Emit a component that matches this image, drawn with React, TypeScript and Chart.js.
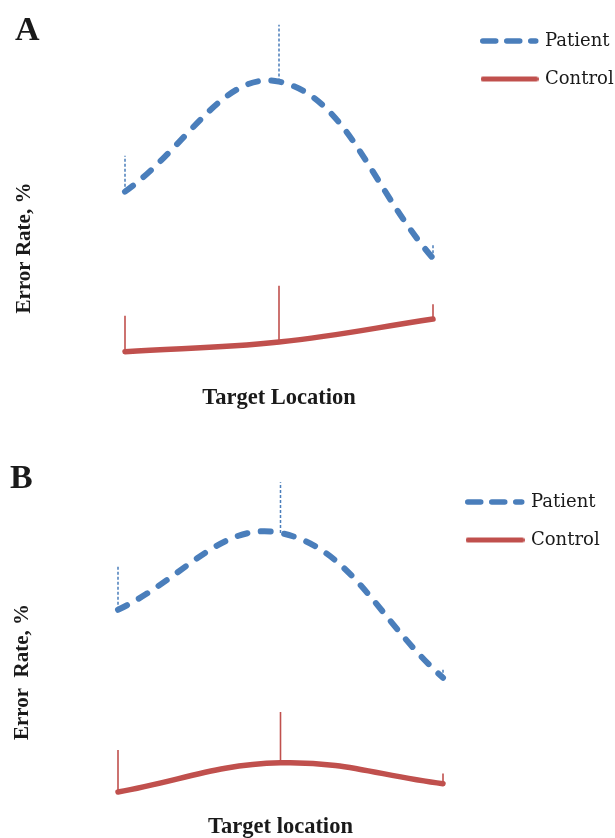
import React, { useEffect, useRef } from 'react';
import { Chart, registerables } from 'chart.js';

Chart.register(...registerables);

// ---- data ----
const categories = ['Left', 'Center', 'Right'];
const seriesNames = ['Patient', 'Control'];

const patientA = [28.8, 46.0, 18.4];
const patientAErr = [5.6, 8.9, 2.2];
const controlA = [3.8, 5.3, 8.9];
const controlAErr = [5.6, 8.8, 2.3];

const patientB = [29.8, 41.9, 19.1];
const patientBErr = [6.8, 8.0, 1.5];
const controlB = [1.1, 5.7, 2.4];
const controlBErr = [6.6, 8.0, 1.6];

const BLUE = '#4A7EBB';
const RED = '#C0504D';
const TEXT = '#1a1a1a';
const LEGEND_FONT = { family: "'DejaVu Serif', serif", size: 18 };
const LEGEND_PAD = 20;

const errorBarPlugin = {
  id: 'errorBars',
  beforeDatasetsDraw(chart: any) {
    const { ctx } = chart;
    const yScale = chart.scales.y;
    chart.data.datasets.forEach((ds: any, i: number) => {
      const errs = ds.errorPlus;
      if (!errs) return;
      const meta = chart.getDatasetMeta(i);
      ctx.save();
      ctx.strokeStyle = ds.borderColor;
      ctx.lineWidth = ds.errorWidth;
      ctx.setLineDash(ds.errorDash || []);
      ctx.lineCap = 'butt';
      meta.data.forEach((pt: any, j: number) => {
        const top = yScale.getPixelForValue(ds.data[j] + errs[j]);
        ctx.beginPath();
        ctx.moveTo(pt.x, pt.y);
        ctx.lineTo(pt.x, top);
        ctx.stroke();
      });
      ctx.restore();
    });
  },
};

function legendSample(len: number, color: string, width: number, dash: number[]): HTMLCanvasElement {
  const cap = width / 2;
  const c = document.createElement('canvas');
  c.width = Math.round(len + 2 * cap);
  c.height = Math.ceil(width + 2);
  const g = c.getContext('2d')!;
  g.strokeStyle = color;
  g.lineWidth = width;
  g.lineCap = 'round';
  g.setLineDash(dash);
  g.beginPath();
  g.moveTo(cap, c.height / 2);
  g.lineTo(cap + len, c.height / 2);
  g.stroke();
  return c;
}

function measure(text: string): number {
  const c = document.createElement('canvas');
  const g = c.getContext('2d')!;
  g.font = `${LEGEND_FONT.size}px ${LEGEND_FONT.family}`;
  return g.measureText(text).width;
}

interface PanelCfg {
  letter: string;
  yTitle: string;
  xTitle: string;
  patient: number[];
  patientErr: number[];
  control: number[];
  controlErr: number[];
  pad: { left: number; top: number };
  titlePad: { top: number; bottom: number };
  yWidth: number;
  yTitlePad: { top: number; bottom: number };
  xHeight: number;
  xTitlePad: { top: number; bottom: number };
  chartRight: number;
  legendLeft: number;
  legendBox: number;
}

function makeConfig(c: PanelCfg, canvasWidth: number): any {
  const avail = canvasWidth - c.legendLeft;
  const maxText = Math.max(...seriesNames.map(measure));
  const computed = LEGEND_PAD + c.legendBox + LEGEND_FONT.size / 2 + maxText + 10;
  const legendWidth = Math.min(avail, computed);
  const padRight = Math.max(0, avail - legendWidth);
  const samples = [
    legendSample(c.legendBox, BLUE, 5.5, [13, 11]),
    legendSample(c.legendBox, RED, 5, []),
  ];
  return {
    type: 'line',
    data: {
      labels: categories,
      datasets: [
        {
          label: seriesNames[0],
          data: c.patient,
          errorPlus: c.patientErr,
          errorWidth: 1.5,
          errorDash: [3, 2],
          borderColor: BLUE,
          backgroundColor: BLUE,
          borderWidth: 6,
          borderDash: [10, 13.5],
          borderCapStyle: 'round',
          borderJoinStyle: 'round',
          tension: 0.4,
          capBezierPoints: false,
          clip: false,
          pointRadius: 0,
          fill: false,
        },
        {
          label: seriesNames[1],
          data: c.control,
          errorPlus: c.controlErr,
          errorWidth: 1.6,
          errorDash: [],
          borderColor: RED,
          backgroundColor: RED,
          borderWidth: 5.5,
          borderCapStyle: 'round',
          borderJoinStyle: 'round',
          tension: 0.4,
          capBezierPoints: false,
          clip: false,
          pointRadius: 0,
          fill: false,
        },
      ],
    },
    options: {
      animation: false,
      responsive: false,
      devicePixelRatio: 1,
      layout: { padding: { left: c.pad.left, top: c.pad.top, right: padRight, bottom: 0 } },
      events: [],
      plugins: {
        tooltip: { enabled: false },
        title: {
          display: true,
          text: c.letter,
          align: 'start',
          color: TEXT,
          font: { family: "'Liberation Serif', serif", weight: 'bold', size: 34, lineHeight: 1 },
          padding: c.titlePad,
        },
        legend: {
          display: true,
          position: 'right',
          align: 'start',
          maxWidth: legendWidth,
          labels: {
            usePointStyle: true,
            pointStyleWidth: c.legendBox,
            padding: LEGEND_PAD,
            color: TEXT,
            font: LEGEND_FONT,
            generateLabels: (chart: any) => {
              const items = Chart.defaults.plugins.legend.labels.generateLabels(chart);
              return items.map((it: any, i: number) => ({ ...it, pointStyle: samples[i], rotation: 0 }));
            },
          },
        },
      },
      scales: {
        x: {
          type: 'category',
          offset: false,
          display: true,
          ticks: { display: false },
          grid: { display: false, drawTicks: false },
          border: { display: false },
          title: {
            display: true,
            text: c.xTitle,
            color: TEXT,
            font: { family: "'Liberation Serif', serif", weight: 'bold', size: 22.5, lineHeight: 1 },
            padding: c.xTitlePad,
          },
          afterFit: (s: any) => { s.height = c.xHeight; },
        },
        y: {
          type: 'linear',
          position: 'left',
          min: 0,
          max: 40,
          display: true,
          ticks: { display: false },
          grid: { display: false, drawTicks: false },
          border: { display: false },
          title: {
            display: true,
            text: c.yTitle,
            color: TEXT,
            font: { family: "'Liberation Serif', serif", weight: 'bold', size: 21, lineHeight: 1 },
            padding: c.yTitlePad,
          },
          afterFit: (s: any) => { s.width = c.yWidth; },
        },
        gap: {
          type: 'linear',
          position: 'right',
          display: true,
          ticks: { display: false },
          grid: { display: false, drawTicks: false },
          border: { display: false },
          afterFit: (s: any) => { s.width = c.legendLeft - c.chartRight; },
        },
      },
    },
    plugins: [errorBarPlugin],
  };
}

const panelA: PanelCfg = {
  letter: 'A',
  yTitle: 'Error Rate, %',
  xTitle: 'Target Location',
  patient: patientA,
  patientErr: patientAErr,
  control: controlA,
  controlErr: controlAErr,
  pad: { left: 15, top: 12 },
  titlePad: { top: 2, bottom: 72 },
  yWidth: 110,
  yTitlePad: { top: -1, bottom: 0 },
  xHeight: 43,
  xTitlePad: { top: 11, bottom: 10 },
  chartRight: 433,
  legendLeft: 463,
  legendBox: 53,
};

const panelB: PanelCfg = {
  letter: 'B',
  yTitle: 'Error  Rate, %',
  xTitle: 'Target location',
  patient: patientB,
  patientErr: patientBErr,
  control: controlB,
  controlErr: controlBErr,
  pad: { left: 10, top: 54 },
  titlePad: { top: -10.5, bottom: 48.5 },
  yWidth: 108,
  yTitlePad: { top: 2.5, bottom: 0 },
  xHeight: 39,
  xTitlePad: { top: 17, bottom: 0 },
  chartRight: 443,
  legendLeft: 448,
  legendBox: 54,
};

function Panel({ cfg, top }: { cfg: PanelCfg; top: number }) {
  const ref = useRef<HTMLCanvasElement | null>(null);
  useEffect(() => {
    if (!ref.current) return;
    const chart = new Chart(ref.current, makeConfig(cfg, 615));
    return () => chart.destroy();
  }, [cfg]);
  return (
    <canvas
      ref={ref}
      width={615}
      height={419}
      style={{ position: 'absolute', left: 0, top, width: 615, height: 419, display: 'block' }}
    />
  );
}

export default function App() {
  return (
    <div style={{ position: 'absolute', left: 0, top: 0, width: 615, height: 838, overflow: 'hidden', background: '#fff' }}>
      <Panel cfg={panelA} top={0} />
      <Panel cfg={panelB} top={419} />
    </div>
  );
}
